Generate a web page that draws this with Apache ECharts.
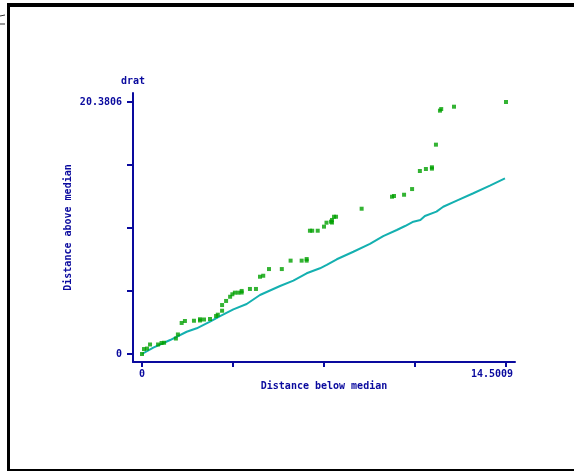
<!DOCTYPE html>
<html>
<head>
<meta charset="utf-8">
<script src="https://cdn.jsdelivr.net/npm/echarts@6/dist/echarts.min.js"></script>
<style>
  html, body { margin: 0; padding: 0; background: #fff; }
  #chart { width: 574px; height: 471px; }
</style>
</head>
<body>
<div id="chart"></div>
<script>
// symmetry plot of drat: distance below median vs distance above median
const belowMedian = [
  0, 0.08, 0.20, 0.32, 0.64, 0.78, 0.88, 1.35, 1.43, 1.58,
  1.71, 2.07, 2.31, 2.31, 2.47, 2.71, 2.95, 3.02, 3.19, 3.19,
  3.35, 3.51, 3.60, 3.70, 3.84, 3.97, 3.97, 4.30, 4.54, 4.70,
  4.83, 5.06, 5.57, 5.92, 6.36, 6.56, 6.56, 6.69, 6.78, 7.00,
  7.25, 7.35, 7.53, 7.57, 7.57, 7.65, 7.73, 8.75, 9.96, 10.04,
  10.44, 10.76, 11.07, 11.31, 11.55, 11.55, 11.71, 11.87, 11.92, 12.43,
  14.5009
];
const aboveMedian = [
  0, 0.40, 0.44, 0.77, 0.77, 0.89, 0.91, 1.25, 1.58, 2.51,
  2.67, 2.69, 2.81, 2.71, 2.79, 2.83, 3.07, 3.18, 3.50, 3.96,
  4.29, 4.63, 4.83, 4.96, 4.96, 5.10, 4.97, 5.26, 5.26, 6.25,
  6.33, 6.87, 6.87, 7.55, 7.55, 7.55, 7.68, 9.97, 9.97, 9.97,
  10.30, 10.62, 10.70, 10.84, 10.63, 11.10, 11.10, 11.75, 12.72, 12.78,
  12.88, 13.34, 14.80, 14.96, 15.10, 14.99, 16.93, 19.68, 19.81, 20.00,
  20.3806
];
// reference line
const lineX = [0, 0.45, 1.12, 1.78, 2.18, 2.71, 3.11, 3.64, 4.17, 4.70,
  5.50, 6.03, 6.56, 7.09, 7.36, 7.76, 8.42, 9.08, 9.61, 10.15,
  10.48, 10.81, 11.09, 11.27, 11.73, 12.00, 12.54, 13.20, 13.86, 14.46];
const lineY = [0, 0.51, 1.13, 1.80, 2.08, 2.61, 3.07, 3.61, 4.04, 4.77,
  5.50, 5.93, 6.53, 6.93, 7.20, 7.66, 8.27, 8.90, 9.54, 10.03,
  10.35, 10.70, 10.84, 11.16, 11.51, 11.91, 12.40, 13.00, 13.61, 14.21];

const xTicks = [0, 3.6252, 7.2505, 10.8757, 14.5009];
const yTicks = [0, 5.0952, 10.1903, 15.2855, 20.3806];
const xLabels = [0, 14.5009];
const yLabels = [0, 20.3806];

const blue = '#0a0a9e';
const font = 'DejaVu Sans Mono';

const chart = echarts.init(document.getElementById('chart'));
chart.setOption({
  animation: false,
  backgroundColor: '#fff',
  grid: { left: 133, right: 59, top: 93, bottom: 109 },
  xAxis: {
    type: 'value',
    min: -0.3585,
    max: 14.8594,
    name: 'Distance below median',
    nameLocation: 'middle',
    nameGap: 19,
    nameMoveOverlap: false,
    nameTextStyle: { color: blue, fontFamily: font, fontWeight: 'bold', fontSize: 10 },
    splitLine: { show: false },
    axisLine: { onZero: false, lineStyle: { color: blue, width: 2 } },
    axisTick: { length: 5, lineStyle: { color: blue, width: 2 }, customValues: xTicks },
    axisLabel: {
      customValues: xLabels,
      margin: 7,
      formatter: v => (v === 0 ? '{a|0}' : '{b|' + v + '}'),
      rich: {
        a: { color: blue, fontFamily: font, fontWeight: 'bold', fontSize: 10 },
        b: { color: blue, fontFamily: font, fontWeight: 'bold', fontSize: 10, padding: [0, 28, 0, 0] }
      }
    }
  },
  yAxis: {
    type: 'value',
    min: -0.647,
    max: 21.108,
    name: 'Distance above median',
    nameLocation: 'middle',
    nameRotate: 90,
    nameGap: 60,
    nameMoveOverlap: false,
    nameTextStyle: { color: blue, fontFamily: font, fontWeight: 'bold', fontSize: 10 },
    splitLine: { show: false },
    axisLine: { show: true, onZero: false, lineStyle: { color: blue, width: 2 } },
    axisTick: { show: true, length: 6, lineStyle: { color: blue, width: 2 }, customValues: yTicks },
    axisLabel: {
      customValues: yLabels,
      margin: 11,
      color: blue, fontFamily: font, fontWeight: 'bold', fontSize: 10,
      formatter: v => String(v)
    }
  },
  graphic: [
    { type: 'text', left: 121, top: 76, style: { text: 'drat', fill: blue, font: 'bold 10px "DejaVu Sans Mono"' } },
    { type: 'rect', shape: { x: 7, y: 3, width: 567, height: 4 }, style: { fill: '#000' } },
    { type: 'rect', shape: { x: 7, y: 3, width: 3, height: 468 }, style: { fill: '#000' } },
    { type: 'rect', shape: { x: 7, y: 469, width: 567, height: 2 }, style: { fill: '#000' } },
    { type: 'polyline', shape: { points: [[0, 16], [5, 15]] }, style: { stroke: '#333', lineWidth: 1 } },
    { type: 'polyline', shape: { points: [[0, 24], [5, 24]] }, style: { stroke: '#333', lineWidth: 1 } }
  ],
  series: [
    {
      type: 'line',
      data: lineX.map((x, i) => [x, lineY[i]]),
      showSymbol: false,
      lineStyle: { color: '#14b0b0', width: 2 },
      z: 2
    },
    {
      type: 'scatter',
      data: belowMedian.map((x, i) => [x, aboveMedian[i]]),
      symbol: 'rect',
      symbolSize: 4,
      itemStyle: { color: '#00a000' },
      z: 3
    }
  ]
});
</script>
</body>
</html>
